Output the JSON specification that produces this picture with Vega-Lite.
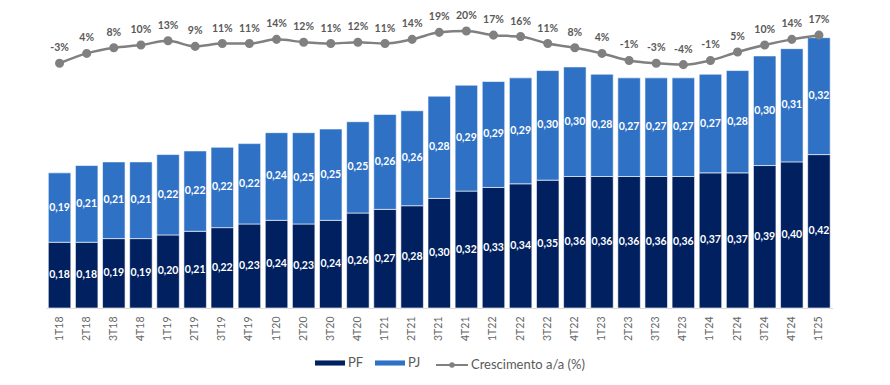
{
  "$schema": "https://vega.github.io/schema/vega-lite/v6.json",
  "width": 786.5,
  "height": 298,
  "autosize": {"type": "none"},
  "padding": {"left": 46, "top": 10, "right": 57, "bottom": 77},
  "background": "white",
  "config": {
    "view": {"stroke": null},
    "locale": {"number": {"decimal": ",", "thousands": ".", "grouping": [3], "currency": ["", ""], "minus": "-", "percent": "%"}}
  },
  "datasets": {
    "barras": [
      {"trimestre": "1T18", "serie": "PF", "valor": 0.18}, {"trimestre": "1T18", "serie": "PJ", "valor": 0.19},
      {"trimestre": "2T18", "serie": "PF", "valor": 0.18}, {"trimestre": "2T18", "serie": "PJ", "valor": 0.21},
      {"trimestre": "3T18", "serie": "PF", "valor": 0.19}, {"trimestre": "3T18", "serie": "PJ", "valor": 0.21},
      {"trimestre": "4T18", "serie": "PF", "valor": 0.19}, {"trimestre": "4T18", "serie": "PJ", "valor": 0.21},
      {"trimestre": "1T19", "serie": "PF", "valor": 0.20}, {"trimestre": "1T19", "serie": "PJ", "valor": 0.22},
      {"trimestre": "2T19", "serie": "PF", "valor": 0.21}, {"trimestre": "2T19", "serie": "PJ", "valor": 0.22},
      {"trimestre": "3T19", "serie": "PF", "valor": 0.22}, {"trimestre": "3T19", "serie": "PJ", "valor": 0.22},
      {"trimestre": "4T19", "serie": "PF", "valor": 0.23}, {"trimestre": "4T19", "serie": "PJ", "valor": 0.22},
      {"trimestre": "1T20", "serie": "PF", "valor": 0.24}, {"trimestre": "1T20", "serie": "PJ", "valor": 0.24},
      {"trimestre": "2T20", "serie": "PF", "valor": 0.23}, {"trimestre": "2T20", "serie": "PJ", "valor": 0.25},
      {"trimestre": "3T20", "serie": "PF", "valor": 0.24}, {"trimestre": "3T20", "serie": "PJ", "valor": 0.25},
      {"trimestre": "4T20", "serie": "PF", "valor": 0.26}, {"trimestre": "4T20", "serie": "PJ", "valor": 0.25},
      {"trimestre": "1T21", "serie": "PF", "valor": 0.27}, {"trimestre": "1T21", "serie": "PJ", "valor": 0.26},
      {"trimestre": "2T21", "serie": "PF", "valor": 0.28}, {"trimestre": "2T21", "serie": "PJ", "valor": 0.26},
      {"trimestre": "3T21", "serie": "PF", "valor": 0.30}, {"trimestre": "3T21", "serie": "PJ", "valor": 0.28},
      {"trimestre": "4T21", "serie": "PF", "valor": 0.32}, {"trimestre": "4T21", "serie": "PJ", "valor": 0.29},
      {"trimestre": "1T22", "serie": "PF", "valor": 0.33}, {"trimestre": "1T22", "serie": "PJ", "valor": 0.29},
      {"trimestre": "2T22", "serie": "PF", "valor": 0.34}, {"trimestre": "2T22", "serie": "PJ", "valor": 0.29},
      {"trimestre": "3T22", "serie": "PF", "valor": 0.35}, {"trimestre": "3T22", "serie": "PJ", "valor": 0.30},
      {"trimestre": "4T22", "serie": "PF", "valor": 0.36}, {"trimestre": "4T22", "serie": "PJ", "valor": 0.30},
      {"trimestre": "1T23", "serie": "PF", "valor": 0.36}, {"trimestre": "1T23", "serie": "PJ", "valor": 0.28},
      {"trimestre": "2T23", "serie": "PF", "valor": 0.36}, {"trimestre": "2T23", "serie": "PJ", "valor": 0.27},
      {"trimestre": "3T23", "serie": "PF", "valor": 0.36}, {"trimestre": "3T23", "serie": "PJ", "valor": 0.27},
      {"trimestre": "4T23", "serie": "PF", "valor": 0.36}, {"trimestre": "4T23", "serie": "PJ", "valor": 0.27},
      {"trimestre": "1T24", "serie": "PF", "valor": 0.37}, {"trimestre": "1T24", "serie": "PJ", "valor": 0.27},
      {"trimestre": "2T24", "serie": "PF", "valor": 0.37}, {"trimestre": "2T24", "serie": "PJ", "valor": 0.28},
      {"trimestre": "3T24", "serie": "PF", "valor": 0.39}, {"trimestre": "3T24", "serie": "PJ", "valor": 0.30},
      {"trimestre": "4T24", "serie": "PF", "valor": 0.40}, {"trimestre": "4T24", "serie": "PJ", "valor": 0.31},
      {"trimestre": "1T25", "serie": "PF", "valor": 0.42}, {"trimestre": "1T25", "serie": "PJ", "valor": 0.32}
    ],
    "cresc": [
      {"trimestre": "1T18", "g": -0.03}, {"trimestre": "2T18", "g": 0.04}, {"trimestre": "3T18", "g": 0.08},
      {"trimestre": "4T18", "g": 0.10}, {"trimestre": "1T19", "g": 0.13}, {"trimestre": "2T19", "g": 0.09},
      {"trimestre": "3T19", "g": 0.11}, {"trimestre": "4T19", "g": 0.11}, {"trimestre": "1T20", "g": 0.14},
      {"trimestre": "2T20", "g": 0.12}, {"trimestre": "3T20", "g": 0.11}, {"trimestre": "4T20", "g": 0.12},
      {"trimestre": "1T21", "g": 0.11}, {"trimestre": "2T21", "g": 0.14}, {"trimestre": "3T21", "g": 0.19},
      {"trimestre": "4T21", "g": 0.20}, {"trimestre": "1T22", "g": 0.17}, {"trimestre": "2T22", "g": 0.16},
      {"trimestre": "3T22", "g": 0.11}, {"trimestre": "4T22", "g": 0.08}, {"trimestre": "1T23", "g": 0.04},
      {"trimestre": "2T23", "g": -0.01}, {"trimestre": "3T23", "g": -0.03}, {"trimestre": "4T23", "g": -0.04},
      {"trimestre": "1T24", "g": -0.01}, {"trimestre": "2T24", "g": 0.05}, {"trimestre": "3T24", "g": 0.10},
      {"trimestre": "4T24", "g": 0.14}, {"trimestre": "1T25", "g": 0.17}
    ]
  },
  "layer": [
    {
      "data": {"name": "barras"},
      "mark": {"type": "bar", "stroke": "#ffffff", "strokeWidth": 0.6},
      "encoding": {
        "x": {
          "field": "trimestre", "type": "nominal", "sort": null,
          "scale": {"paddingInner": 0.17, "paddingOuter": 0.085},
          "axis": {"title": null, "labelAngle": -90, "labelFont": "Lato", "labelFontSize": 10.5, "labelColor": "#666666", "ticks": false, "domainColor": "#D9D9D9", "domainWidth": 1, "labelPadding": 8}
        },
        "y": {"field": "valor", "type": "quantitative", "stack": "zero", "scale": {"domain": [0, 0.8158]}, "axis": null},
        "order": {"field": "serie", "type": "nominal", "sort": "ascending"},
        "color": {
          "field": "serie", "type": "nominal",
          "scale": {"domain": ["PF", "PJ"], "range": ["#002060", "#2F71C4"]},
          "legend": {
            "orient": "none", "legendX": 269, "legendY": 338, "direction": "horizontal", "title": null,
            "symbolSize": 900, "symbolType": "M-1,-0.17H1V0.17H-1Z", "labelFont": "Lato", "labelFontSize": 13, "labelColor": "#595959",
            "columnPadding": 11, "labelOffset": 3, "symbolStrokeWidth": 0, "symbolOpacity": 1
          }
        }
      }
    },
    {
      "data": {"name": "barras"},
      "transform": [
        {"stack": "valor", "groupby": ["trimestre"], "sort": [{"field": "serie"}], "as": ["v0", "v1"]},
        {"calculate": "(datum.v0 + datum.v1) / 2", "as": "meio"}
      ],
      "mark": {"type": "text", "color": "#ffffff", "font": "Lato", "fontSize": 10.5, "fontWeight": "bold", "baseline": "middle"},
      "encoding": {
        "x": {"field": "trimestre", "type": "nominal", "sort": null},
        "y": {"field": "meio", "type": "quantitative", "scale": {"domain": [0, 0.8158]}, "axis": null},
        "text": {"field": "valor", "type": "quantitative", "format": ".2f"}
      }
    },
    {
      "data": {"name": "cresc"},
      "mark": {"type": "line", "strokeWidth": 2.5, "interpolate": "monotone", "point": {"filled": true, "size": 50, "color": "#808080"}},
      "encoding": {
        "x": {"field": "trimestre", "type": "nominal", "sort": null},
        "y": {"field": "g", "type": "quantitative", "scale": {"domain": [-1.772, 0.349]}, "axis": null},
        "stroke": {
          "datum": "Crescimento a/a (%)",
          "scale": {"domain": ["Crescimento a/a (%)"], "range": ["#808080"]},
          "legend": {
            "orient": "none", "legendX": 389, "legendY": 338, "direction": "horizontal", "title": null,
            "symbolSize": 1024,
            "symbolType": "M-1,0H1M0.04,0A0.04,0.04,0,1,1,-0.04,0A0.04,0.04,0,1,1,0.04,0M0.11,0A0.11,0.11,0,1,1,-0.11,0A0.11,0.11,0,1,1,0.11,0",
            "symbolStrokeWidth": 2, "symbolFillColor": "#808080", "symbolStrokeColor": "#808080",
            "labelFont": "Lato", "labelFontSize": 13, "labelColor": "#595959", "labelOffset": 2
          }
        }
      }
    },
    {
      "data": {"name": "cresc"},
      "mark": {"type": "text", "color": "#595959", "font": "Lato", "fontSize": 10.5, "fontWeight": "bold", "baseline": "middle", "dy": -15},
      "encoding": {
        "x": {"field": "trimestre", "type": "nominal", "sort": null},
        "y": {"field": "g", "type": "quantitative", "scale": {"domain": [-1.772, 0.349]}, "axis": null},
        "text": {"field": "g", "type": "quantitative", "format": ".0%"}
      }
    }
  ],
  "resolve": {"scale": {"y": "independent"}}
}
